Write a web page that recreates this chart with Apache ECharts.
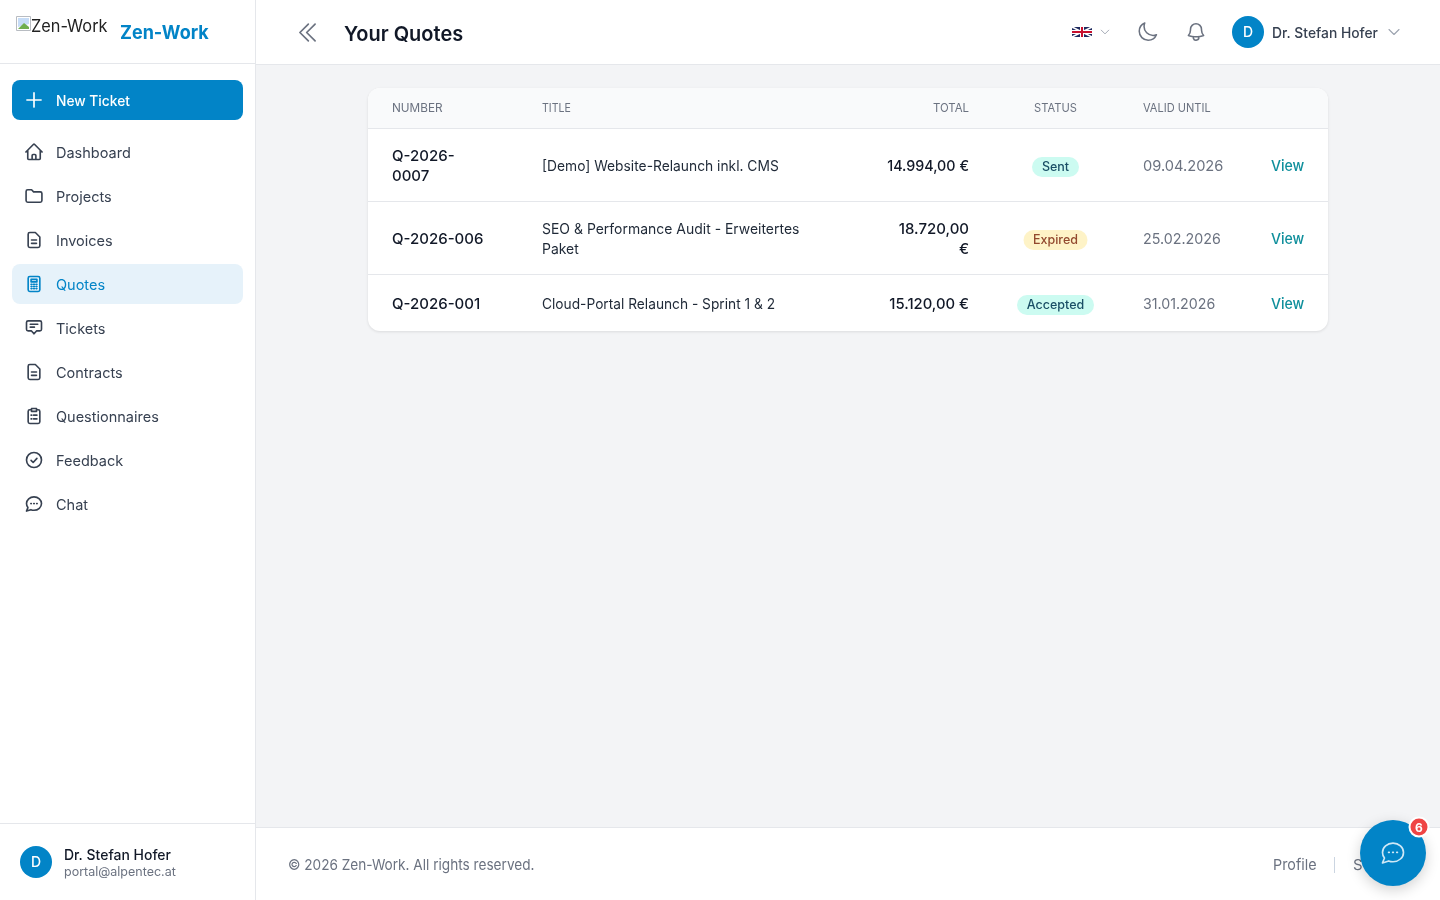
<!DOCTYPE html>
<html><head><meta charset="utf-8"><title>Your Quotes</title>
<style>html,body{margin:0;padding:0;background:#fff;overflow:hidden}#c{width:1440px;height:900px}</style>
<script src="https://cdn.jsdelivr.net/npm/echarts@6/dist/echarts.min.js"></script>
</head><body><div id="c"></div>
<script>
const brandName = 'Zen-Work';
const pageTitle = 'Your Quotes';
const userName = 'Dr. Stefan Hofer';
const userEmail = 'portal@alpentec.at';
const userInitial = 'D';
const newTicketLabel = 'New Ticket';
const navLabels = ['Dashboard','Projects','Invoices','Quotes','Tickets','Contracts','Questionnaires','Feedback','Chat'];
const activeNav = 'Quotes';
const columnHeaders = ['NUMBER','TITLE','TOTAL','STATUS','VALID UNTIL'];
const quoteNumbers = ['Q-2026-\n0007','Q-2026-006','Q-2026-001'];
const quoteTitles = ['[Demo] Website-Relaunch inkl. CMS','SEO & Performance Audit - Erweitertes\nPaket','Cloud-Portal Relaunch - Sprint 1 & 2'];
const quoteTotals = ['14.994,00 €','18.720,00\n€','15.120,00 €'];
const quoteStatuses = ['Sent','Expired','Accepted'];
const quoteValidUntil = ['09.04.2026','25.02.2026','31.01.2026'];
const rowAction = 'View';
const footerText = '© 2026 Zen-Work. All rights reserved.';
const footerLinks = ['Profile','S'];
const chatBadge = '6';

const F = 'Inter, "Noto Sans", sans-serif';
const BLUE = '#0284c7', LINE = '#e5e7eb';
const ICONS = {
  Dashboard:'M2.25 12 11.204 3.045c.44-.439 1.152-.439 1.591 0L21.75 12M4.5 9.75v10.125c0 .621.504 1.125 1.125 1.125H9.75v-4.875c0-.621.504-1.125 1.125-1.125h2.25c.621 0 1.125.504 1.125 1.125V21h4.125c.621 0 1.125-.504 1.125-1.125V9.75M8.25 21h8.25',
  Projects:'M2.5 6.5a2 2 0 0 1 2-2h4.6l2.4 2.5H19.5a2 2 0 0 1 2 2V17.5a2 2 0 0 1-2 2H4.5a2 2 0 0 1-2-2Z',
  Invoices:'M9 12h6M9 16h6M7 3h6.6L19 8.4V19a2 2 0 0 1-2 2H7a2 2 0 0 1-2-2V5a2 2 0 0 1 2-2Z',
  Quotes:'M7 3h10a2 2 0 0 1 2 2v14a2 2 0 0 1-2 2H7a2 2 0 0 1-2-2V5a2 2 0 0 1 2-2ZM8.5 6.5h7v3h-7ZM8.5 12.5h1M11.5 12.5h1M14.5 12.5h1M8.5 15h1M11.5 15h1M14.5 15h1M8.5 17.5h1M11.5 17.5h1M14.5 17.5h1',
  Tickets:'M5 3.5h14a2 2 0 0 1 2 2v8a2 2 0 0 1-2 2h-4l-3 3.5L9 15.5H5a2 2 0 0 1-2-2v-8a2 2 0 0 1 2-2ZM7.5 7.5h9M7.5 11h5',
  Contracts:'M9 12h6M9 16h6M7 3h6.6L19 8.4V19a2 2 0 0 1-2 2H7a2 2 0 0 1-2-2V5a2 2 0 0 1 2-2Z',
  Questionnaires:'M9 4.5H7a2 2 0 0 0-2 2V19a2 2 0 0 0 2 2h10a2 2 0 0 0 2-2V6.5a2 2 0 0 0-2-2h-2M9 3h6v3.5H9ZM8.5 11h.8M11.5 11h4M8.5 15.5h.8M11.5 15.5h4',
  Feedback:'M12 3a9 9 0 1 1 0 18a9 9 0 0 1 0-18ZM8.5 12.5l2.5 2.5l4.5-5',
  Chat:'M12 3.5c5 0 9 3.6 9 8s-4 8-9 8c-1.3 0-2.6-.2-3.7-.7L3 20.5l1.7-4.2C3.6 14.9 3 13.3 3 11.5c0-4.4 4-8 9-8ZM8.2 11.5h.6M11.7 11.5h.6M15.2 11.5h.6',
  moon:'M21.752 15.002A9.72 9.72 0 0 1 18 15.75c-5.385 0-9.75-4.365-9.75-9.75 0-1.33.266-2.597.748-3.752A9.753 9.753 0 0 0 3 11.25C3 16.635 7.365 21 12.75 21a9.753 9.753 0 0 0 9.002-5.998Z',
  bell:'M14.857 17.082a23.848 23.848 0 0 0 5.454-1.31A8.967 8.967 0 0 1 18 9.75V9A6 6 0 0 0 6 9v.75a8.967 8.967 0 0 1-2.312 6.022c1.733.64 3.56 1.085 5.455 1.31m5.714 0a24.255 24.255 0 0 1-5.714 0m5.714 0a3 3 0 1 1-5.714 0',
  chev:'M19.5 8.25 12 15.75 4.5 8.25',
  dbl:'M18.75 4.5 11.25 12l7.5 7.5M12.75 4.5 5.25 12l7.5 7.5',
  plus:'M12 3.5v17M3.5 12h17',
  flagX:'M0 0L20 10M20 0L0 10'
};
Object.keys(ICONS).forEach(k=>echarts.graphic.registerShape('icon'+k,echarts.graphic.extendPath(ICONS[k],{})));
const els = [];
let zc = 0;
function rect(x,y,w,h,fill,r,extra){els.push({type:'rect',silent:true,z:++zc,shape:{x,y,width:w,height:h,r:r||0},style:Object.assign({fill},extra||{})});}
function circle(cx,cy,r,fill,extra){els.push({type:'circle',silent:true,z:++zc,shape:{cx,cy,r},style:Object.assign({fill},extra||{})});}
function text(x,y,t,size,fill,weight,align,lh,sx){els.push({type:'text',silent:true,z:++zc,x,y,scaleX:sx||1,scaleY:1,style:{text:t,font:`${weight||400} ${size}px ${F}`,fill,textAlign:align||'left',textVerticalAlign:'middle',lineHeight:lh||undefined}});}
function icon(name,x,y,size,color,sw){const s=size/24;els.push({type:'icon'+name,silent:true,z:++zc,x,y,scaleX:s,scaleY:s,style:{fill:'none',stroke:color,lineWidth:sw||1.6,lineCap:'round',lineJoin:'round'}});}

// page
rect(0,0,1440,900,'#f3f4f6');
// top bar
rect(256,0,1184,65,'#ffffff'); rect(256,64,1184,1,LINE);
icon('dbl',294,19,27,'#6b7280',1.5);
text(344,35,pageTitle,20.5,'#111827',600,'left',0,0.975);
// flag
rect(1072,27,20,10,'#1e2a5e',1.5);
els.push({type:'iconflagX',silent:true,z:++zc,x:1072,y:27,style:{fill:'none',stroke:'#fff',lineWidth:1.6}});
rect(1080,27,4,10,'#fff'); rect(1072,30,20,4,'#fff');
rect(1081,27,2,10,'#c8102e'); rect(1072,31,20,2,'#c8102e');
icon('chev',1099,26,12,'#9ca3af',1.8);
icon('moon',1136.5,21,22,'#6b7280',1.7);
icon('bell',1185,21,22,'#6b7280',1.7);
circle(1248,32,16,BLUE); text(1248,33,userInitial,14,'#fff',500,'center');
text(1272,33.5,userName,14.5,'#374151',500,'left',0,0.955);
icon('chev',1386,24,16,'#9ca3af',1.6);

// sidebar
rect(0,0,255,900,'#ffffff'); rect(255,0,1,900,LINE);
rect(0,63,255,1,LINE); rect(0,823,255,1,LINE);
// broken image + alt
rect(16.5,16.5,14,14,'#fff',0,{stroke:'#b8bcc2',lineWidth:1});
els.push({type:'polygon',silent:true,z:++zc,shape:{points:[[18,18],[29,18],[29,24],[18,27]]},style:{fill:'#c6dcf7'}});
els.push({type:'polygon',silent:true,z:++zc,shape:{points:[[18,29],[24,23],[29,27],[29,29]]},style:{fill:'#6fae4e'}});
text(31,27,brandName,17,'#222222',400,'left',0,0.96);
text(120,33,brandName,19,BLUE,700,'left',0,0.947);
// new ticket
rect(12,80,231,40,BLUE,8);
icon('plus',24,90,20,'#ffffff',2);
text(56,102,newTicketLabel,14.5,'#ffffff',500,'left',0,0.95);
// nav
navLabels.forEach((label,i)=>{
  const cy=153+i*44, active=label===activeNav;
  if(active) rect(12,cy-21,231,40,'#e6f2fa',8);
  icon(label,24,cy-11,20,active?BLUE:'#374151',1.95);
  text(56,cy+1,label,14.5,active?BLUE:'#374151',400);
});
// sidebar user
circle(36,862,16,BLUE); text(36,863,userInitial,14,'#fff',500,'center');
text(64,856,userName,14.5,'#111827',500,'left',0,0.964);
text(64,872,userEmail,12.5,'#6b7280',400);

// table card
rect(368,88,960,243,'#ffffff',12,{shadowBlur:3,shadowColor:'rgba(0,0,0,0.10)',shadowOffsetY:1});
rect(368,88,960,41,'#f9fafb',[12,12,0,0]);
rect(368,128,960,1,LINE); rect(368,201,960,1,LINE); rect(368,274,960,1,LINE);
const headerPos=[[392,'left'],[542,'left'],[969,'right'],[1055.5,'center'],[1143,'left']];
const headerFit=[0.98,0.88,0.95,0.93,0.92];
columnHeaders.forEach((h,i)=>text(headerPos[i][0],108,h,12,'#6b7280',400,headerPos[i][1],0,headerFit[i]));
const rowY=[166,239,304];
const titleFit=[0.952,0.963,0.947], totalFit=[0.953,1,0.988], dateFit=[0.976,0.951,0.947];
const badgeW={Sent:47,Expired:64,Accepted:77};
const badgeStyle={Sent:['#ccfbf1','#1a4f66'],Expired:['#fef3c7','#92492e'],Accepted:['#ccfbf1','#1a4f66']};
quoteNumbers.forEach((n,i)=>{
  const y=rowY[i];
  text(392,y,n,15,'#111827',500,'left',20);
  text(542,y+1,quoteTitles[i],14.5,'#1f2937',400,'left',20,titleFit[i]);
  text(969,y,quoteTotals[i],15,'#111827',500,'right',20,totalFit[i]);
  const st=quoteStatuses[i],w=badgeW[st],c=badgeStyle[st];
  rect(1055.5-w/2,y-9,w,20,c[0],10);
  text(1055.5,y+1,st,12.5,c[1],500,'center');
  text(1143,y,quoteValidUntil[i],15,'#6b7280',400,'left',0,dateFit[i]);
  text(1271,y,rowAction,15,'#0f8f9c',500,'left',0,0.94);
});

// footer
rect(256,828,1184,72,'#ffffff'); rect(256,827,1184,1,LINE);
text(288,865,footerText,15,'#6b7280',400,'left',0,0.908);
text(1273,865,footerLinks[0],15,'#6b7280',400,'left',0,0.955);
rect(1334,857,1,16,'#cbd5e1');
text(1353,865,footerLinks[1],15,'#6b7280',400);
// fab
circle(1393,853,33,BLUE,{shadowBlur:14,shadowColor:'rgba(0,0,0,0.18)',shadowOffsetY:4});
icon('Chat',1379,839,28,'#cfe8f6',1.4);
circle(1419,827,9.5,'#ef4444',{stroke:'#ffffff',lineWidth:2});
text(1419,828,chatBadge,12,'#ffffff',700,'center');

const chart=echarts.init(document.getElementById('c'),null,{renderer:'canvas',width:1440,height:900});
chart.setOption({animation:false,backgroundColor:'#ffffff',graphic:{elements:els}});
</script></body></html>
